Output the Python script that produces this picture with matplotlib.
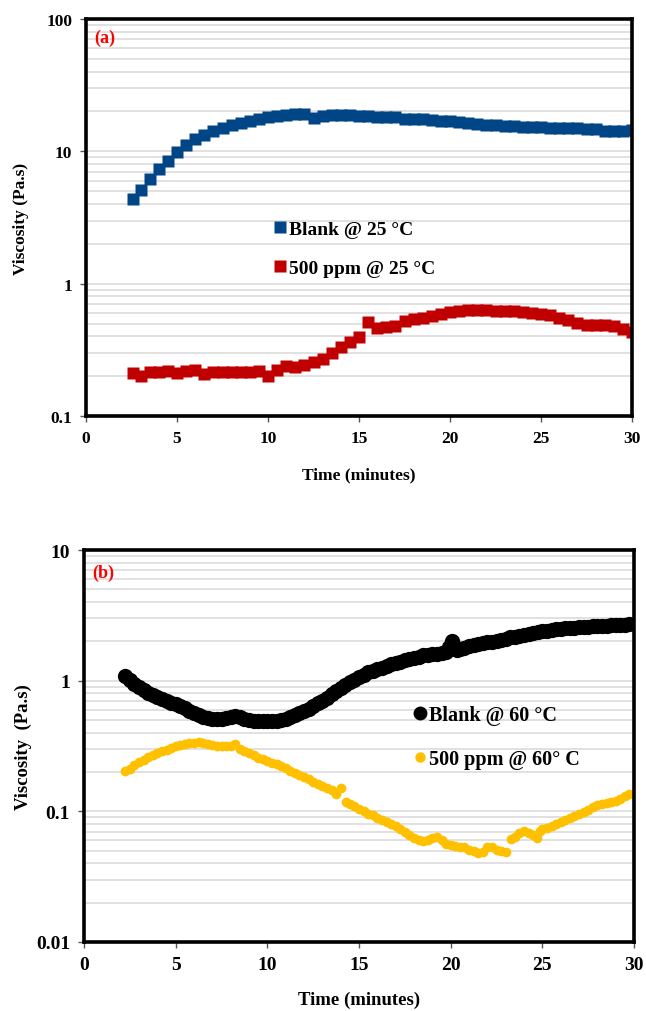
import matplotlib
matplotlib.use("Agg")
import matplotlib.pyplot as plt
from matplotlib.ticker import LogLocator, NullFormatter, FixedLocator

plt.rcParams['font.family'] = ['Liberation Serif', 'DejaVu Sans']
plt.rcParams['font.weight'] = 'bold'

# ---------------- data: panel (a) ----------------
t_blank25 = [2.6, 3.0, 3.5, 4.0, 4.5, 5.0, 5.5, 6.0, 6.5, 7.0, 7.5, 8.0, 8.5, 9.0, 9.5,
             10.0, 10.5, 11.0, 11.5, 12.0, 12.5, 13.0, 13.5, 14.0, 14.5, 15.0, 15.5,
             16.0, 16.5, 17.0, 17.5, 18.0, 18.5, 19.0, 19.5, 20.0, 20.5, 21.0, 21.5,
             22.0, 22.5, 23.0, 23.5, 24.0, 24.5, 25.0, 25.5, 26.0, 26.5, 27.0, 27.5,
             28.0, 28.5, 29.0, 29.5, 30.0]
v_blank25 = [4.4, 5.1, 6.2, 7.3, 8.5, 9.9, 11.2, 12.5, 13.4, 14.3, 15.1, 15.8, 16.5, 17.1, 17.7,
             18.2, 18.5, 18.8, 19.0, 19.1, 18.0, 18.5, 18.7, 18.8, 18.8, 18.6, 18.4,
             18.3, 18.3, 18.2, 17.5, 17.6, 17.6, 17.4, 17.1, 16.9, 16.6, 16.4, 16.2,
             15.9, 15.7, 15.5, 15.6, 15.4, 15.2, 15.2, 15.1, 15.0, 15.0, 14.9, 14.8,
             14.7, 14.2, 14.2, 14.3, 14.6]

t_500_25 = [2.6, 3.0, 3.5, 4.0, 4.5, 5.0, 5.5, 6.0, 6.5, 7.0, 7.5, 8.0, 8.5, 9.0, 9.5,
            10.0, 10.5, 11.0, 11.5, 12.0, 12.5, 13.0, 13.5, 14.0, 14.5, 15.0, 15.5,
            16.0, 16.5, 17.0, 17.5, 18.0, 18.5, 19.0, 19.5, 20.0, 20.5, 21.0, 21.5,
            22.0, 22.5, 23.0, 23.5, 24.0, 24.5, 25.0, 25.5, 26.0, 26.5, 27.0, 27.5,
            28.0, 28.5, 29.0, 29.5, 30.0]
v_500_25 = [0.21, 0.20, 0.215, 0.215, 0.218, 0.213, 0.218, 0.222, 0.207, 0.214, 0.214, 0.214,
            0.215, 0.216, 0.22, 0.202, 0.222, 0.237, 0.236, 0.242, 0.255, 0.27, 0.30, 0.33,
            0.36, 0.395, 0.51, 0.465, 0.47, 0.48, 0.52, 0.54, 0.555, 0.57, 0.59, 0.615,
            0.625, 0.63, 0.635, 0.63, 0.625, 0.625, 0.62, 0.615, 0.605, 0.595, 0.58,
            0.555, 0.53, 0.505, 0.49, 0.49, 0.485, 0.475, 0.455, 0.435]

# ---------------- data: panel (b) ----------------
t_blank60 = [2.25, 2.5, 2.75, 3.0, 3.25, 3.5, 3.75, 4.0, 4.25, 4.5, 4.75, 5.0, 5.25, 5.5,
             5.75, 6.0, 6.25, 6.5, 6.75, 7.0, 7.25, 7.5, 7.75, 8.0, 8.25, 8.5, 8.75, 9.0,
             9.25, 9.5, 9.75, 10.0, 10.25, 10.5, 10.75, 11.0, 11.25, 11.5, 11.75, 12.0,
             12.25, 12.5, 12.75, 13.0, 13.25, 13.5, 13.75, 14.0, 14.25, 14.5, 14.75, 15.0,
             15.25, 15.5, 15.75, 16.0, 16.25, 16.5, 16.75, 17.0, 17.25, 17.5, 17.75, 18.0,
             18.25, 18.5, 18.75, 19.0, 19.25, 19.5, 19.75, 19.9, 20.05, 20.2, 20.35, 20.5,
             20.75, 21.0, 21.25, 21.5, 21.75, 22.0, 22.25, 22.5, 22.75, 23.0, 23.25, 23.5,
             23.75, 24.0, 24.25, 24.5, 24.75, 25.0, 25.25, 25.5, 25.75, 26.0, 26.25, 26.5,
             26.75, 27.0, 27.25, 27.5, 27.75, 28.0, 28.25, 28.5, 28.75, 29.0, 29.25, 29.5,
             29.75]
v_blank60 = [1.08, 1.01, 0.95, 0.89, 0.85, 0.81, 0.78, 0.75, 0.72, 0.70, 0.68, 0.66, 0.64,
             0.62, 0.59, 0.57, 0.55, 0.53, 0.52, 0.51, 0.505, 0.51, 0.52, 0.53, 0.54, 0.53,
             0.51, 0.50, 0.495, 0.49, 0.49, 0.49, 0.49, 0.49, 0.50, 0.51, 0.53, 0.55, 0.57,
             0.59, 0.61, 0.64, 0.67, 0.70, 0.74, 0.79, 0.83, 0.88, 0.93, 0.98, 1.02, 1.07,
             1.11, 1.16, 1.19, 1.23, 1.26, 1.30, 1.33, 1.36, 1.40, 1.43, 1.47, 1.50, 1.53,
             1.56, 1.58, 1.60, 1.61, 1.63, 1.66, 1.80, 2.02, 1.85, 1.72, 1.76, 1.79, 1.83,
             1.87, 1.90, 1.93, 1.96, 1.99, 2.02, 2.06, 2.10, 2.14, 2.17, 2.21, 2.25, 2.28,
             2.31, 2.35, 2.38, 2.41, 2.44, 2.47, 2.49, 2.51, 2.53, 2.55, 2.56, 2.58, 2.59,
             2.60, 2.61, 2.63, 2.64, 2.65, 2.66, 2.68, 2.69, 2.72]

t_500_60 = [2.25, 2.5, 2.75, 3.0, 3.25, 3.5, 3.75, 4.0, 4.25, 4.5, 4.75, 5.0, 5.25, 5.5,
            5.75, 6.0, 6.25, 6.5, 6.75, 7.0, 7.25, 7.5, 7.75, 8.0, 8.25, 8.5, 8.75, 9.0,
            9.25, 9.5, 9.75, 10.0, 10.25, 10.5, 10.75, 11.0, 11.25, 11.5, 11.75, 12.0,
            12.25, 12.5, 12.75, 13.0, 13.25, 13.5, 13.75, 14.0, 14.3, 14.5, 14.75, 15.0,
            15.25, 15.5, 15.75, 16.0, 16.25, 16.5, 16.75, 17.0, 17.25, 17.5, 17.75, 18.0,
            18.25, 18.5, 18.75, 19.0, 19.25, 19.5, 19.75, 20.0, 20.25, 20.5, 20.75, 21.0,
            21.25, 21.5, 21.75, 22.0, 22.25, 22.5, 22.75, 23.0, 23.3, 23.5, 23.75, 24.0,
            24.25, 24.5, 24.7, 24.85, 25.0, 25.25, 25.5, 25.75, 26.0, 26.25, 26.5, 26.75,
            27.0, 27.25, 27.5, 27.75, 28.0, 28.25, 28.5, 28.75, 29.0, 29.25, 29.5, 29.7]
v_500_60 = [0.205, 0.212, 0.225, 0.237, 0.248, 0.26, 0.27, 0.28, 0.29, 0.297, 0.306, 0.315,
            0.322, 0.328, 0.332, 0.335, 0.337, 0.335, 0.328, 0.32, 0.318, 0.318, 0.316,
            0.318, 0.33, 0.30, 0.29, 0.28, 0.268, 0.258, 0.25, 0.243, 0.236, 0.229, 0.221,
            0.213, 0.205, 0.198, 0.19, 0.183, 0.176, 0.169, 0.163, 0.157, 0.151, 0.145,
            0.135, 0.15, 0.117, 0.113, 0.109, 0.105, 0.10, 0.096, 0.093, 0.089, 0.086,
            0.083, 0.080, 0.077, 0.073, 0.069, 0.066, 0.063, 0.060, 0.059, 0.060, 0.062,
            0.064, 0.060, 0.056, 0.055, 0.054, 0.053, 0.053, 0.051, 0.050, 0.048, 0.049,
            0.053, 0.053, 0.051, 0.050, 0.049, 0.061, 0.064, 0.068, 0.071, 0.068, 0.066,
            0.063, 0.071, 0.073, 0.075, 0.077, 0.080, 0.083, 0.086, 0.089, 0.092, 0.095,
            0.098, 0.102, 0.107, 0.112, 0.114, 0.116, 0.118, 0.121, 0.125, 0.130, 0.136]

x_ticks = [0, 5, 10, 15, 20, 25, 30]
y_ticks_a = [0.1, 1, 10, 100]
y_labels_a = ["0.1", "1", "10", "100"]
y_ticks_b = [0.01, 0.1, 1, 10]
y_labels_b = ["0.01", "0.1", "1", "10"]

fig = plt.figure(figsize=(6.46, 10.12), dpi=100)
axA = fig.add_axes([86/646, 1-417/1012, 546/646, 397/1012])
axB = fig.add_axes([84/646, 1-943/1012, 550/646, 392/1012])


def style(ax, yt, yl, fs):
    ax.set_yscale('log')
    ax.set_xlim(0, 30)
    ax.set_xticks(x_ticks)
    ax.set_xticklabels([str(v) for v in x_ticks], fontsize=fs, fontweight='bold')
    ax.yaxis.set_major_locator(FixedLocator(yt))
    ax.set_yticklabels(yl, fontsize=fs, fontweight='bold')
    ax.yaxis.set_minor_locator(LogLocator(base=10, subs=range(2, 10)))
    ax.yaxis.set_minor_formatter(NullFormatter())
    ax.grid(which='both', axis='y', color='#d9d9d9', lw=1.1)
    ax.set_axisbelow(True)
    ax.tick_params(which='minor', length=0)
    ax.tick_params(which='major', length=4, width=1, color='#555555', pad=6)
    for s in ax.spines.values():
        s.set_linewidth(2.6)
        s.set_color('black')


# panel (a)
axA.plot(t_blank25, v_blank25, 's', color='#004586', ms=8.5, mec='none', label='Blank @ 25 °C')
axA.plot(t_500_25, v_500_25, 's', color='#C00000', ms=8.5, mec='none', label='500 ppm @ 25 °C')
axA.set_ylim(0.1, 100)
style(axA, y_ticks_a, y_labels_a, 12.5)
axA.set_xlabel('Time (minutes)', fontsize=12.5, fontweight='bold', labelpad=15)
axA.set_ylabel('Viscosity (Pa.s)', fontsize=12.5, fontweight='bold', labelpad=12)
axA.text(0.015, 0.975, '(a)', transform=axA.transAxes, color='#FF0000', fontsize=13,
         fontweight='bold', va='top', ha='left')
legA = axA.legend(loc='upper left', bbox_to_anchor=(0.33, 0.513), frameon=False,
                  handlelength=0.6, handletextpad=0.15, labelspacing=1.12, borderaxespad=0,
                  prop={'weight': 'bold', 'size': 14})
for h in legA.legend_handles:
    h.set_markersize(8)

# panel (b)
axB.plot(t_blank60, v_blank60, 'o', color='black', ms=11, mec='none', label='Blank @ 60 °C')
axB.plot(t_500_60, v_500_60, 'o', color='#FFC000', ms=7, mec='none', label='500 ppm @ 60° C')
axB.set_ylim(0.01, 10)
style(axB, y_ticks_b, y_labels_b, 14)
axB.set_xlabel('Time (minutes)', fontsize=13.5, fontweight='bold', labelpad=13)
axB.set_ylabel('Viscosity  (Pa.s)', fontsize=13.5, fontweight='bold', labelpad=3)
axB.text(0.015, 0.965, '(b)', transform=axB.transAxes, color='#FF0000', fontsize=13,
         fontweight='bold', va='top', ha='left')
legB = axB.legend(loc='upper left', bbox_to_anchor=(0.585, 0.625), frameon=False,
                  handlelength=0.6, handletextpad=0.15, labelspacing=1.2, borderaxespad=0,
                  prop={'weight': 'bold', 'size': 14.5})
legB.legend_handles[0].set_markersize(10)
legB.legend_handles[1].set_markersize(7.5)

fig.savefig('out.png', dpi=100)
